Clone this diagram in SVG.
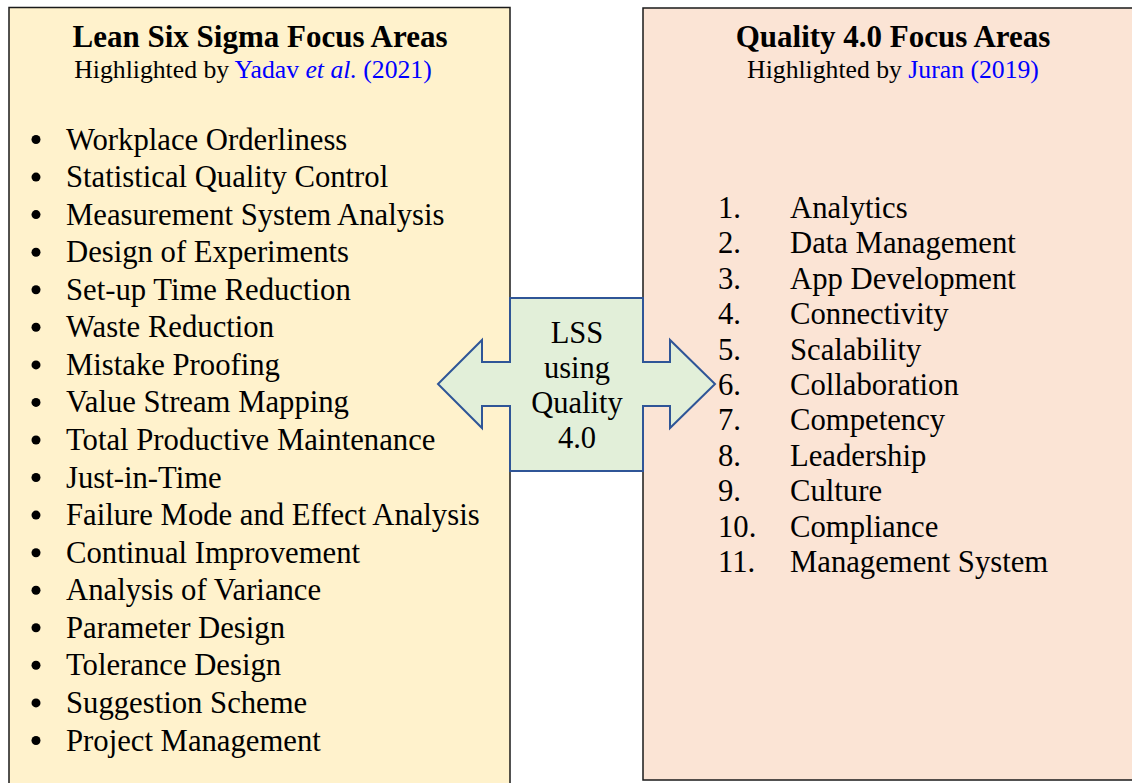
<svg xmlns="http://www.w3.org/2000/svg" width="1132" height="783" viewBox="0 0 1132 783">
  <style>
    text { font-family: "Liberation Serif", "Times New Roman", serif; fill: #000; }
    .title { font-size: 31px; font-weight: bold; text-anchor: middle; }
    .sub { font-size: 25.7px; text-anchor: middle; }
    .link { fill: #0000ff; }
    .item { font-size: 30.7px; }
    .mid { font-size: 30.5px; text-anchor: middle; }
    .box { stroke: #1a1a1a; stroke-width: 1.5; }
  </style>
  <rect width="1132" height="783" fill="#ffffff"/>

  <!-- Lean Six Sigma panel -->
  <g id="lss-panel">
    <rect class="box" x="9" y="7.5" width="501" height="790" fill="#fff2cc"/>
    <text class="title" x="260" y="47">Lean Six Sigma Focus Areas</text>
    <text class="sub" x="253" y="78">Highlighted by <tspan class="link">Yadav <tspan font-style="italic">et al.</tspan> (2021)</tspan></text>
    <g>
      <g fill="#000">
        <circle cx="36" cy="139.5" r="4.5"/><circle cx="36" cy="177.1" r="4.5"/><circle cx="36" cy="214.6" r="4.5"/>
        <circle cx="36" cy="252.2" r="4.5"/><circle cx="36" cy="289.7" r="4.5"/><circle cx="36" cy="327.3" r="4.5"/>
        <circle cx="36" cy="364.9" r="4.5"/><circle cx="36" cy="402.4" r="4.5"/><circle cx="36" cy="440" r="4.5"/>
        <circle cx="36" cy="477.5" r="4.5"/><circle cx="36" cy="515.1" r="4.5"/><circle cx="36" cy="552.7" r="4.5"/>
        <circle cx="36" cy="590.2" r="4.5"/><circle cx="36" cy="627.8" r="4.5"/><circle cx="36" cy="665.3" r="4.5"/>
        <circle cx="36" cy="702.9" r="4.5"/><circle cx="36" cy="740.5" r="4.5"/>
      </g>
      <text class="item" x="66" y="149.5">Workplace Orderliness</text>
      <text class="item" x="66" y="187.1">Statistical Quality Control</text>
      <text class="item" x="66" y="224.6">Measurement System Analysis</text>
      <text class="item" x="66" y="262.2">Design of Experiments</text>
      <text class="item" x="66" y="299.7">Set-up Time Reduction</text>
      <text class="item" x="66" y="337.3">Waste Reduction</text>
      <text class="item" x="66" y="374.9">Mistake Proofing</text>
      <text class="item" x="66" y="412.4">Value Stream Mapping</text>
      <text class="item" x="66" y="450">Total Productive Maintenance</text>
      <text class="item" x="66" y="487.5">Just-in-Time</text>
      <text class="item" x="66" y="525.1">Failure Mode and Effect Analysis</text>
      <text class="item" x="66" y="562.7">Continual Improvement</text>
      <text class="item" x="66" y="600.2">Analysis of Variance</text>
      <text class="item" x="66" y="637.8">Parameter Design</text>
      <text class="item" x="66" y="675.3">Tolerance Design</text>
      <text class="item" x="66" y="712.9">Suggestion Scheme</text>
      <text class="item" x="66" y="750.5">Project Management</text>
    </g>
  </g>

  <!-- Quality 4.0 panel -->
  <g id="q40-panel">
    <rect class="box" x="643" y="8" width="500" height="772" fill="#fbe4d5"/>
    <text class="title" x="893" y="47">Quality 4.0 Focus Areas</text>
    <text class="sub" x="893" y="78">Highlighted by <tspan class="link">Juran (2019)</tspan></text>
    <g>
      <text class="item" x="718" y="218">1.</text><text class="item" x="790" y="218">Analytics</text>
      <text class="item" x="718" y="253.4">2.</text><text class="item" x="790" y="253.4">Data Management</text>
      <text class="item" x="718" y="288.8">3.</text><text class="item" x="790" y="288.8">App Development</text>
      <text class="item" x="718" y="324.2">4.</text><text class="item" x="790" y="324.2">Connectivity</text>
      <text class="item" x="718" y="359.6">5.</text><text class="item" x="790" y="359.6">Scalability</text>
      <text class="item" x="718" y="395">6.</text><text class="item" x="790" y="395">Collaboration</text>
      <text class="item" x="718" y="430.4">7.</text><text class="item" x="790" y="430.4">Competency</text>
      <text class="item" x="718" y="465.8">8.</text><text class="item" x="790" y="465.8">Leadership</text>
      <text class="item" x="718" y="501.2">9.</text><text class="item" x="790" y="501.2">Culture</text>
      <text class="item" x="718" y="536.6">10.</text><text class="item" x="790" y="536.6">Compliance</text>
      <text class="item" x="718" y="572">11.</text><text class="item" x="790" y="572">Management System</text>
    </g>
  </g>

  <!-- Connectors: double-headed block arrow linking both panels -->
  <g id="connectors">
    <g id="lss-q40-link">
      <polygon points="510,298 643,298 643,362 670,362 670,340 715,384 670,428 670,406 643,406 643,471 510,471 510,406 482,406 482,428 438,384 482,340 482,362 510,362" fill="#e2efd9" stroke="#2f5597" stroke-width="2" stroke-linejoin="miter"/>
      <text class="mid" x="577" y="343">LSS</text>
      <text class="mid" x="577" y="378">using</text>
      <text class="mid" x="577" y="413">Quality</text>
      <text class="mid" x="577" y="448">4.0</text>
    </g>
  </g>
</svg>
